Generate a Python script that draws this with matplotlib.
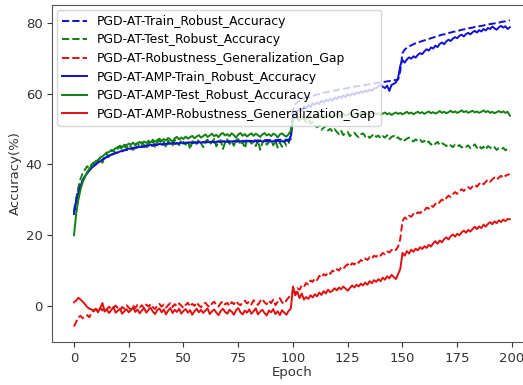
import numpy as np
import matplotlib
matplotlib.use("Agg")
import matplotlib.pyplot as plt

epochs = list(range(200))

pgd_train = [
    26.5, 30.0, 32.5, 34.3, 35.6, 36.7, 37.6, 38.4, 39.0, 39.6, 40.1, 40.6, 41.0, 41.4, 41.8, 42.1, 42.4, 42.7, 43.0, 43.2,
    43.4, 43.6, 43.8, 44.0, 44.1, 44.3, 44.4, 44.5, 44.6, 44.8, 44.9, 45.0, 45.0, 45.1, 45.2, 45.3, 45.3, 45.4, 45.5, 45.5,
    45.6, 45.6, 45.7, 45.7, 45.8, 45.8, 45.9, 45.9, 45.9, 46.0, 46.0, 46.0, 46.1, 46.1, 46.1, 46.2, 46.2, 46.2, 46.3, 46.3,
    46.3, 46.3, 46.4, 46.4, 46.4, 46.4, 46.5, 46.5, 46.5, 46.5, 46.5, 46.6, 46.6, 46.6, 46.6, 46.6, 46.7, 46.7, 46.7, 46.7,
    46.7, 46.7, 46.8, 46.8, 46.8, 46.8, 46.8, 46.8, 46.9, 46.9, 46.9, 46.9, 46.9, 46.9, 47.0, 47.0, 47.0, 47.0, 47.0, 47.1,
    55.5, 57.0, 57.6, 58.0, 58.3, 58.6, 58.8, 59.0, 59.2, 59.4, 59.6, 59.8, 59.9, 60.1, 60.2, 60.4, 60.5, 60.7, 60.8, 60.9,
    61.0, 61.2, 61.3, 61.4, 61.5, 61.6, 61.8, 61.9, 62.0, 62.1, 62.2, 62.3, 62.4, 62.5, 62.6, 62.7, 62.8, 62.9, 63.0, 63.1,
    63.2, 63.3, 63.4, 63.5, 63.6, 63.7, 63.8, 63.9, 64.0, 66.5, 71.5, 72.5, 73.0, 73.4, 73.7, 74.0, 74.3, 74.5, 74.7, 74.9,
    75.1, 75.3, 75.5, 75.7, 75.9, 76.1, 76.3, 76.5, 76.7, 76.8, 77.0, 77.2, 77.3, 77.5, 77.6, 77.8, 77.9, 78.1, 78.2, 78.3,
    78.5, 78.6, 78.7, 78.9, 79.0, 79.1, 79.2, 79.3, 79.5, 79.6, 79.7, 79.8, 79.9, 80.0, 80.1, 80.3, 80.4, 80.5, 80.6, 80.8,
]

pgd_test = [
    27.0, 30.5, 33.5, 36.0, 37.5, 38.5, 39.5, 39.0, 40.0, 40.6, 39.8, 41.2, 41.8, 40.5, 42.4, 43.0, 42.2, 43.6, 44.0, 43.2,
    44.5, 45.0, 44.2, 45.3, 44.6, 45.6, 45.0, 44.1, 45.8, 46.0, 45.2, 46.3, 45.5, 44.5, 46.1, 45.7, 46.5, 45.0, 46.2, 46.8,
    45.9, 46.5, 44.8, 46.7, 46.0, 45.4, 46.9, 46.2, 45.5, 47.0, 46.3, 45.6, 46.8, 44.3, 46.5, 46.9, 45.8, 47.1, 46.0, 44.9,
    46.6, 47.0, 45.7, 46.3, 47.2, 45.1, 46.5, 46.9, 44.4, 46.2, 47.1, 45.8, 46.6, 45.3, 46.9, 47.2, 45.5, 46.4, 44.6, 46.8,
    47.0, 45.9, 46.5, 45.2, 46.8, 44.2, 46.1, 46.9, 45.6, 46.3, 47.1, 45.4, 46.7, 44.8, 46.2, 45.0, 46.6, 45.3, 45.8, 49.0,
    53.5, 52.8, 53.3, 52.2, 52.9, 53.0, 51.8, 52.5, 51.6, 52.0, 51.2, 50.5, 51.0, 49.8, 50.4, 50.9, 49.6, 50.1, 49.3, 50.0,
    49.2, 48.6, 49.5, 48.3, 48.9, 49.2, 48.0, 48.7, 49.0, 48.2, 47.7, 48.5, 48.8, 47.9, 48.3, 47.5, 48.1, 48.6, 47.8, 48.2,
    47.4, 48.0, 47.6, 48.3, 47.2, 47.8, 48.1, 47.3, 47.7, 47.0, 47.5, 46.8, 47.3, 47.6, 46.9, 46.5, 47.1, 46.6, 47.0, 46.3,
    46.7, 46.0, 46.5, 45.6, 46.2, 45.8, 46.4, 45.5, 46.0, 45.7, 45.2, 45.8, 45.4, 44.9, 45.6, 45.1, 45.5, 44.8, 45.3, 45.0,
    45.4, 44.6, 45.1, 45.7, 44.7, 45.3, 44.5, 45.0, 44.2, 45.2, 44.8, 44.4, 44.9, 44.1, 44.6, 44.3, 44.7, 44.0, 44.4, 43.9,
]

pgd_gap = [
    -5.8, -4.5, -3.2, -2.8, -3.5, -3.0, -2.6, -3.2, -2.0, -1.2, -0.8, -1.5, -0.6, -1.3, -0.4, -1.0, -0.2, -0.9, -0.5, 0.1,
    -0.6, -1.2, -0.3, -0.8, 0.2, -0.5, -1.0, 0.0, -0.6, 0.3, -0.4, 0.2, -0.7, 0.4, -0.2, 0.5, -0.3, -0.9, 0.1, 0.6,
    -0.2, 0.4, -0.5, 0.2, 0.8, -0.3, 0.5, -0.1, 0.7, 0.1, -0.6, 0.3, 0.9, -0.2, 0.6, 0.0, 1.0, 0.2, -0.4, 0.5,
    0.9, 0.1, -0.3, 0.7, 1.2, 0.3, -0.2, 0.8, 1.3, 0.4, 0.9, 0.0, 1.1, 0.5, 1.4, 0.6, 0.2, 1.0, 1.5, 0.7,
    1.2, 0.4, 1.6, 0.8, 0.3, 1.3, 2.0, 1.0, 0.5, 1.5, 0.8, 1.8, 0.2, 1.2, 2.2, 1.0, 0.6, 1.6, 2.4, 3.0,
    4.0, 3.6, 5.0, 4.6, 5.8, 5.4, 6.5, 6.0, 7.2, 6.8, 7.8, 7.3, 8.5, 8.0, 9.0, 8.6, 9.5, 9.1, 10.0, 9.6,
    10.4, 10.0, 10.9, 10.5, 11.3, 11.8, 11.2, 12.1, 11.7, 12.6, 12.2, 13.0, 12.6, 13.4, 13.0, 13.8, 13.4, 14.2, 13.9, 14.6,
    14.2, 15.0, 14.6, 15.4, 15.1, 15.8, 16.2, 15.8, 16.8, 19.0, 24.0, 25.0, 24.6, 25.5, 25.2, 26.0, 25.7, 26.5, 26.2, 27.0,
    27.0, 27.8, 27.5, 28.4, 28.0, 28.9, 28.6, 29.4, 30.1, 29.7, 30.5, 31.2, 30.8, 31.6, 32.2, 31.7, 32.5, 33.0, 32.5, 33.2,
    33.6, 33.1, 33.8, 34.3, 33.7, 34.5, 35.0, 34.4, 35.1, 35.7, 35.1, 35.8, 36.3, 35.7, 36.3, 36.8, 36.2, 36.8, 37.1, 37.3,
]

amp_train = [
    26.0, 29.5, 32.0, 34.0, 35.5, 36.6, 37.5, 38.3, 39.0, 39.5, 40.0, 40.6, 40.9, 41.4, 41.7, 42.2, 42.4, 42.8, 43.0, 43.3,
    43.4, 43.7, 43.8, 44.1, 44.2, 44.5, 44.4, 44.7, 44.8, 45.0, 44.9, 45.2, 45.1, 45.4, 45.3, 45.6, 45.4, 45.7, 45.6, 45.8,
    45.7, 45.9, 45.7, 46.0, 45.8, 46.1, 45.9, 46.1, 45.9, 46.2, 46.0, 46.2, 46.1, 46.3, 46.0, 46.3, 46.1, 46.4, 46.2, 46.3,
    46.2, 46.4, 46.3, 46.5, 46.2, 46.4, 46.5, 46.3, 46.6, 46.4, 46.5, 46.3, 46.6, 46.5, 46.4, 46.6, 46.5, 46.7, 46.4, 46.6,
    46.5, 46.7, 46.5, 46.6, 46.4, 46.7, 46.5, 46.6, 46.5, 46.7, 46.5, 46.6, 46.4, 46.7, 46.5, 46.6, 46.5, 46.8, 46.6, 48.0,
    53.5, 54.5, 55.0, 55.8, 55.2, 56.3, 55.9, 56.8, 56.2, 57.3, 56.9, 57.6, 57.1, 58.0, 57.5, 58.3, 57.9, 58.6, 58.1, 58.9,
    58.5, 59.2, 58.8, 59.6, 59.1, 59.9, 59.4, 60.1, 59.7, 60.4, 60.0, 60.7, 60.3, 60.9, 60.6, 61.2, 60.8, 61.5, 61.6, 62.2,
    62.4, 62.0, 61.6, 62.3, 60.8, 62.5, 62.8, 63.2, 64.5, 68.0, 69.5, 68.8, 69.7, 70.3, 69.9, 70.6, 70.2, 71.0, 71.5, 71.2,
    72.0, 72.6, 72.2, 73.1, 72.8, 73.6, 73.2, 74.1, 74.5, 74.0, 74.8, 75.3, 74.9, 75.6, 76.0, 75.7, 76.4, 76.7, 76.2, 76.9,
    77.2, 76.8, 77.4, 77.8, 77.3, 78.0, 77.6, 78.3, 77.9, 78.6, 78.3, 79.0, 78.5, 78.1, 78.8, 79.2, 78.7, 79.1, 78.3, 78.8,
]

amp_test = [
    20.0, 26.0, 30.0, 33.0, 35.0, 36.5, 37.8, 38.8, 39.6, 40.3, 41.0, 41.2, 42.0, 42.3, 42.8, 43.4, 43.5, 44.1, 44.0, 44.6,
    44.9, 45.3, 44.9, 45.6, 45.4, 45.9, 45.6, 46.2, 45.4, 46.0, 46.4, 45.8, 46.5, 46.1, 46.7, 46.2, 47.0, 46.4, 46.9, 47.3,
    46.6, 47.2, 46.8, 47.5, 47.0, 46.5, 47.4, 47.8, 47.1, 47.6, 47.2, 47.9, 47.3, 47.7, 48.1, 47.4, 47.9, 48.3, 47.6, 48.0,
    48.5, 47.8, 48.2, 48.7, 48.0, 48.4, 47.7, 48.6, 48.9, 48.2, 48.6, 48.0, 48.8, 48.3, 47.6, 48.5, 48.9, 48.1, 48.6, 47.9,
    48.4, 48.8, 48.1, 48.7, 48.3, 47.8, 48.5, 48.9, 48.2, 48.6, 48.0, 48.7, 48.4, 47.6, 48.5, 48.8, 48.2, 47.9, 48.6, 49.5,
    52.5, 53.2, 53.0, 52.6, 53.1, 53.5, 52.9, 53.3, 53.7, 53.2, 53.6, 53.3, 53.8, 53.5, 53.9, 53.4, 53.7, 54.0, 53.6, 53.9,
    54.2, 53.7, 54.0, 54.3, 53.8, 54.1, 54.4, 53.9, 54.2, 54.5, 54.0, 54.3, 54.6, 54.1, 54.4, 54.0, 54.3, 54.6, 54.2, 54.5,
    54.1, 54.4, 54.7, 54.2, 54.5, 54.0, 54.4, 54.7, 54.3, 54.6, 54.2, 54.5, 54.9, 54.4, 54.7, 54.2, 54.6, 54.9, 54.5, 54.8,
    54.3, 54.7, 55.0, 54.5, 54.8, 54.4, 54.7, 55.1, 54.6, 54.9, 54.5, 54.8, 55.2, 54.7, 55.0, 54.6, 54.9, 55.3, 54.8, 55.1,
    54.6, 54.9, 55.2, 54.7, 55.0, 54.6, 54.9, 55.3, 54.8, 55.1, 54.6, 54.9, 54.5, 54.8, 55.1, 54.7, 55.0, 54.6, 54.9, 53.8,
]

amp_gap = [
    1.0, 1.5, 2.3, 1.8, 1.2, 0.5, -0.3, -0.8, -1.0, -1.5, -0.9, -1.8, -0.5, 0.8, -1.6, -1.0, -2.0, -1.2, -0.3, -1.9,
    -1.4, -0.8, -2.2, -1.5, -0.9, -1.8, -1.2, -0.4, -1.7, -1.0, -2.1, -1.3, -0.6, -1.9, -1.1, -0.5, -1.6, -2.3, -1.2, -0.7,
    -1.8, -1.0, -2.4, -1.3, -0.6, -2.0, -1.1, -1.7, -0.8, -2.2, -1.4, -0.9, -1.9, -1.2, -2.5, -1.5, -0.8, -1.8, -1.1, -2.0,
    -1.3, -0.7, -2.3, -1.5, -1.0, -1.9, -2.6, -1.4, -0.8, -1.7, -2.2, -1.1, -1.6, -2.5, -1.2, -0.6, -1.8, -2.4, -1.3, -1.9,
    -1.0, -2.2, -1.5, -0.7, -2.4, -1.6, -1.1, -2.0, -2.7, -1.3, -1.8, -0.9, -2.3, -1.5, -2.6, -1.2, -1.9, -2.5, -1.4, -0.8,
    5.5, 3.0, 4.0, 2.2, 3.5, 1.8, 2.5, 2.0, 3.0, 2.4, 3.3, 2.7, 3.8, 3.1, 4.2, 3.5, 4.6, 3.9, 4.3, 5.0,
    4.4, 5.2, 4.7, 5.5, 4.9, 4.3, 5.1, 5.8, 5.2, 6.0, 5.5, 6.3, 5.8, 6.6, 6.0, 7.0, 6.4, 7.3, 6.8, 7.6,
    7.0, 8.0, 7.4, 8.4, 7.8, 8.8, 8.2, 7.6, 9.0, 10.5, 15.0, 14.2, 15.5, 14.8, 15.9, 15.3, 16.2, 15.7, 16.6, 16.1,
    16.9, 16.4, 17.3, 16.8, 17.7, 18.3, 17.6, 18.5, 18.0, 18.9, 19.4, 18.8, 19.7, 20.2, 19.6, 20.4, 20.0, 20.8, 21.3, 20.7,
    21.5, 21.0, 21.8, 22.4, 21.7, 22.5, 22.0, 23.0, 22.4, 23.2, 23.7, 23.1, 23.9, 23.4, 24.2, 23.7, 24.4, 24.0, 24.6, 24.5,
]

labels = [
    "PGD-AT-Train_Robust_Accuracy",
    "PGD-AT-Test_Robust_Accuracy",
    "PGD-AT-Robustness_Generalization_Gap",
    "PGD-AT-AMP-Train_Robust_Accuracy",
    "PGD-AT-AMP-Test_Robust_Accuracy",
    "PGD-AT-AMP-Robustness_Generalization_Gap",
]
xticks = [0, 25, 50, 75, 100, 125, 150, 175, 200]
yticks = [0, 20, 40, 60, 80]

fig = plt.figure(figsize=(5.23, 3.85), dpi=100)
ax = fig.add_axes([52.2 / 523, 43 / 385, 479.4 / 523, 337 / 385])

lw = 1.4
ax.plot(epochs, pgd_train, "--", color="#1010d0", lw=lw, label=labels[0])
ax.plot(epochs, pgd_test, "--", color="#108010", lw=lw, label=labels[1])
ax.plot(epochs, pgd_gap, "--", color="#e01010", lw=lw, label=labels[2])
ax.plot(epochs, amp_train, "-", color="#1010d0", lw=lw, label=labels[3])
ax.plot(epochs, amp_test, "-", color="#108010", lw=lw, label=labels[4])
ax.plot(epochs, amp_gap, "-", color="#e01010", lw=lw, label=labels[5])

ax.set_xlim(-9.95, 208.95)
ax.set_ylim(-10.2, 85.1)
ax.set_xticks(xticks)
ax.set_yticks(yticks)
ax.tick_params(labelsize=9.5, colors="#333333")
for s in ax.spines.values():
    s.set_color("#555555")
ax.set_xlabel("Epoch", fontsize=9.5, color="#333333", labelpad=1)
ax.set_ylabel("Accuracy(%)", fontsize=9.5, color="#333333", labelpad=3)
ax.legend(loc="upper left", fontsize=8.9, labelspacing=0.45, borderaxespad=0.4)

fig.savefig("out.png", dpi=100)
